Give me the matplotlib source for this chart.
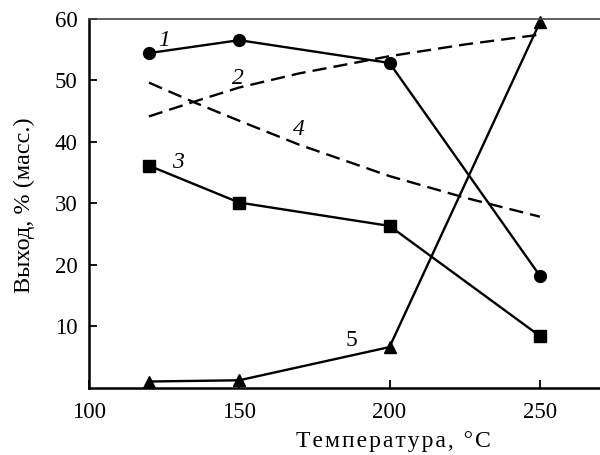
import matplotlib
matplotlib.use("Agg")
import matplotlib.pyplot as plt

plt.rcParams['font.family'] = ['Liberation Serif', 'DejaVu Serif']

# data
temp = [120, 150, 200, 250]
y1 = [54.4, 56.5, 52.8, 18.2]   # circles
y3 = [36.1, 30.1, 26.3, 8.4]    # squares
y5 = [1.0, 1.2, 6.6, 59.4]      # triangles

temp_c = [120, 135, 150, 170, 200, 225, 250]
y2 = [44.1, 46.5, 48.8, 51.1, 53.9, 55.8, 57.4]   # dashed, rising
y4 = [49.6, 46.4, 43.4, 39.5, 34.4, 30.9, 27.8]   # dashed, falling

xlabel = 'Температура, °C'
ylabel = 'Выход, % (масс.)'

fig = plt.figure(figsize=(6, 4.55), dpi=100)
ax = fig.add_axes([0.148, 0.148, 0.852, 0.811])

lw = 1.7
ax.plot(temp, y1, '-o', color='k', lw=lw, ms=8.5, clip_on=False)
ax.plot(temp, y3, '-s', color='k', lw=lw, ms=8, clip_on=False)
ax.plot(temp, y5, '-^', color='k', lw=lw, ms=9, clip_on=False)
ax.plot(temp_c, y2, '--', color='k', lw=lw, dashes=(6, 3))
ax.plot(temp_c, y4, '--', color='k', lw=lw, dashes=(6, 3))

# curve numbers
ax.text(125.2, 56.4, '1', fontsize=17, style='italic', ha='center', va='center')
ax.text(149.5, 50.2, '2', fontsize=17, style='italic', ha='center', va='center')
ax.text(129.6, 36.6, '3', fontsize=17, style='italic', ha='center', va='center')
ax.text(169.8, 42.0, '4', fontsize=17, style='italic', ha='center', va='center')
ax.text(187.4, 7.7, '5', fontsize=17, ha='center', va='center')

ax.set_xlim(100, 270)
ax.set_ylim(0, 60)
ax.set_xticks([100, 150, 200, 250])
ax.set_yticks([10, 20, 30, 40, 50, 60])
ax.tick_params(direction='in', length=6, width=1.3, labelsize=16.5)
ax.tick_params(axis='x', pad=10)
ax.tick_params(axis='y', pad=8)

ax.spines['right'].set_visible(False)
ax.spines['left'].set_linewidth(1.8)
ax.spines['bottom'].set_linewidth(1.8)
ax.spines['top'].set_linewidth(1.2)
ax.spines['top'].set_color('#444444')

ax.set_xlabel('\u200a'.join(xlabel), fontsize=17)
ax.set_ylabel(ylabel, fontsize=17.5)
ax.xaxis.set_label_coords(0.595, -0.117)
ax.yaxis.set_label_coords(-0.106, 0.495)

fig.savefig('out.png', dpi=100)
